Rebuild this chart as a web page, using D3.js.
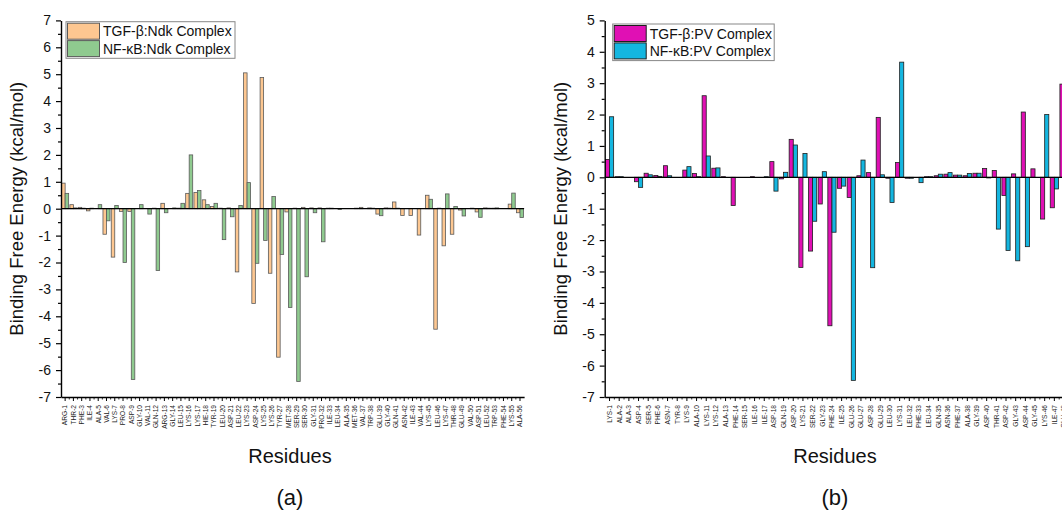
<!DOCTYPE html>
<html>
<head>
<meta charset="utf-8">
<script src="https://cdn.jsdelivr.net/npm/d3@7"></script>
<style>
  body { margin: 0; background: #fff; }
  svg { font-family: Arial, "Liberation Sans", sans-serif; }
</style>
</head>
<body>
<div id="chart"></div>
<script>
// panel (a) - Ndk complexes
const residuesA = ["ARG-1","THR-2","PHE-3","ILE-4","ALA-5","VAL-6","LYS-7","PRO-8","ASP-9","GLY-10",
  "VAL-11","GLN-12","ARG-13","GLY-14","LEU-15","LYS-16","LYS-17","HIE-18","TYR-19","LEU-20",
  "ASP-21","LEU-22","LYS-23","ASP-24","LYS-25","LYS-26","TYR-27","MET-28","SER-29","SER-30",
  "GLY-31","PRO-32","ILE-33","LEU-34","ALA-35","MET-36","VAL-37","TRP-38","GLU-39","GLY-40",
  "GLN-41","ASN-42","ILE-43","VAL-44","LYS-45","LEU-46","LYS-47","THR-48","GLU-49","VAL-50",
  "ASP-51","LEU-52","TRP-53","PHE-54","LYS-55","ALA-56"];
const tgfNdk = [0.95,0.15,0.05,-0.08,0,-0.95,-1.8,-0.1,-0.1,0,
  0,0.02,0.2,0,0.02,0.57,0.6,0.33,0.08,0.02,
  0.03,-2.35,5.05,-3.52,4.88,-2.4,-5.52,-0.12,0.02,0.05,
  0.03,0.03,0.02,0,0,0,0.05,0.03,-0.2,0.03,
  0.25,-0.25,-0.25,-0.98,0.5,-4.48,-1.38,-0.95,-0.05,0,
  -0.12,0.03,0.02,0,0.17,-0.15];
const nfkbNdk = [0.57,0.03,0.02,0.02,0.15,-0.45,0.12,-2.0,-6.35,0.15,
  -0.2,-2.3,-0.15,0.03,0.2,2.0,0.68,0.15,0.2,-1.15,
  -0.3,0.12,0.97,-2.03,-1.18,0.45,-1.7,-3.67,-6.42,-2.53,
  -0.15,-1.23,0.02,-0.03,0,0.02,0,0.02,-0.26,0.02,
  0.02,0,0,0,0.35,0.02,0.55,0.08,-0.27,0.02,
  -0.32,0.02,0.03,0,0.58,-0.33];

// panel (b) - PV complexes (last residue is cut off by the frame)
const residuesB = ["LYS-1","ALA-2","ALA-3","ASP-4","SER-5","PHE-6","ASN-7","TYR-8","LYS-9","ALA-10",
  "LYS-11","LYS-12","ALA-13","PHE-14","SER-15","ILE-16","ILE-17","ASP-18","GLN-19","ASP-20",
  "LYS-21","SER-22","GLY-23","PHE-24","ILE-25","GLU-26","GLU-27","ASP-28","GLU-29","LEU-30",
  "LYS-31","LEU-32","PHE-33","LEU-34","GLN-35","ASN-36","PHE-37","ALA-38","GLY-39","ASP-40",
  "THR-41","ASP-42","GLY-43","ASP-44","GLY-45","LYS-46","ILE-47","GLU-48"];
const tgfPV = [0.57,0.02,0,-0.14,0.13,0.06,0.37,0,0.23,0.12,
  2.6,0.29,0.02,-0.9,0,0.02,0,0.5,-0.05,1.21,
  -2.87,-2.35,-0.85,-4.73,-0.35,-0.64,0.05,0.15,1.91,-0.03,
  0.47,-0.03,0,0.02,0.05,0.1,0.07,0.05,0.13,0.28,
  0.22,-0.58,0.11,2.08,0.27,-1.33,-0.97,2.97];
const nfkbPV = [1.93,0.02,0,-0.32,0.08,0.03,0.05,0,0.34,0.02,
  0.68,0.3,0,0,0,0,0.02,-0.44,0.16,1.03,
  0.76,-1.4,0.18,-1.75,-0.28,-6.47,0.55,-2.88,0.08,-0.8,
  3.67,-0.03,-0.17,0.02,0.1,0.15,0.07,0.12,0.13,-0.02,
  -1.65,-2.33,-2.66,-2.21,0,2.0,-0.37,0];

const width = 1062, height = 516;

const svg = d3.select("#chart")
  .append("svg")
    .attr("width", width)
    .attr("height", height);

svg.append("rect").attr("width", width).attr("height", height).attr("fill", "#fff");

function drawPanel(p) {
  const g = svg.append("g");

  const x0 = d3.scaleBand()
    .domain(p.residues)
    .range([p.left, p.left + p.residues.length * p.step])
    .paddingInner(0.15)
    .paddingOuter(0.075);

  const x1 = d3.scaleBand()
    .domain([0, 1])
    .range([0, x0.bandwidth()]);

  const y = d3.scaleLinear()
    .domain(p.yDomain)
    .range([397, 20.4]);

  const rows = p.residues.map((r, i) => ({ r, vals: [p.s1[i], p.s2[i]] }));

  // bars
  const grp = g.selectAll(".grp")
    .data(rows)
    .enter().append("g")
      .attr("transform", d => `translate(${x0(d.r)},0)`);

  grp.selectAll("rect")
    .data(d => d.vals.map((v, k) => ({ k, v })))
    .enter().append("rect")
      .attr("x", d => x1(d.k))
      .attr("width", x1.bandwidth())
      .attr("y", d => y(Math.max(0, d.v)))
      .attr("height", d => Math.abs(y(d.v) - y(0)))
      .attr("fill", d => p.colors[d.k])
      .attr("stroke", p.stroke)
      .attr("stroke-width", 0.8);

  // zero line
  g.append("line")
    .attr("x1", x0.range()[0]).attr("x2", x0.range()[1])
    .attr("y1", y(0)).attr("y2", y(0))
    .attr("stroke", "#000").attr("stroke-width", 1.3);

  // y axis
  const yMinor = d3.range(p.yDomain[0] + 0.5, p.yDomain[1], 1);
  g.append("g")
    .attr("transform", `translate(${p.left},0)`)
    .call(d3.axisLeft(y).tickValues(yMinor).tickSize(3).tickFormat(""))
    .call(a => a.select(".domain").remove())
    .selectAll("line").attr("stroke-width", 1.2);

  const yAxis = g.append("g")
    .attr("transform", `translate(${p.left},0)`)
    .call(d3.axisLeft(y)
      .tickValues(d3.range(p.yDomain[0], p.yDomain[1] + 1))
      .tickSize(5)
      .tickSizeOuter(0)
      .tickPadding(5)
      .tickFormat(d => String(d)));
  yAxis.select(".domain").attr("stroke-width", 1.4);
  yAxis.selectAll("line").attr("stroke-width", 1.2);
  yAxis.selectAll("text").attr("font-size", 14).attr("fill", "#111");

  // x axis
  const xAxis = g.append("g")
    .attr("transform", `translate(0,${y(p.yDomain[0])})`)
    .call(d3.axisBottom(x0).tickSize(4).tickSizeOuter(0).tickPadding(3));
  xAxis.select(".domain").attr("stroke-width", 1.4);
  xAxis.selectAll("line").attr("stroke-width", 1);
  xAxis.selectAll("text")
    .attr("font-size", 6.6)
    .attr("fill", "#222")
    .attr("transform", "rotate(-90)")
    .attr("text-anchor", "end")
    .attr("x", -8)
    .attr("y", 0)
    .attr("dy", "0.35em");

  // minor ticks between residues
  g.append("g").selectAll("line")
    .data(p.residues.slice(0, -1))
    .enter().append("line")
      .attr("x1", d => x0(d) + x0.step() - x0.step() * 0.075 - (x0.step() - x0.bandwidth()) / 2 + x0.step() * 0.075)
      .attr("x2", d => x0(d) + x0.step() - x0.step() * 0.075 - (x0.step() - x0.bandwidth()) / 2 + x0.step() * 0.075)
      .attr("y1", y(p.yDomain[0]))
      .attr("y2", y(p.yDomain[0]) + 2.5)
      .attr("stroke", "#000").attr("stroke-width", 0.8);

  // titles
  g.append("text")
    .attr("transform", `translate(${p.left - 38},${(y.range()[0] + y.range()[1]) / 2}) rotate(-90)`)
    .attr("text-anchor", "middle")
    .attr("font-size", 18.5)
    .attr("fill", "#111")
    .text("Binding Free Energy (kcal/mol)");

  g.append("text")
    .attr("x", p.titleX).attr("y", 463)
    .attr("text-anchor", "middle")
    .attr("font-size", 20)
    .attr("fill", "#111")
    .text("Residues");

  g.append("text")
    .attr("x", p.titleX).attr("y", 505)
    .attr("text-anchor", "middle")
    .attr("font-size", 22)
    .attr("fill", "#111")
    .text(p.letter);

  // legend
  const lg = g.append("g").attr("transform", `translate(${p.legend[0]},${p.legend[1]})`);
  lg.append("rect")
    .attr("width", p.legendW).attr("height", 36.6)
    .attr("fill", "#fff").attr("stroke", "#888").attr("stroke-width", 1);
  p.names.forEach((n, k) => {
    lg.append("rect")
      .attr("x", 1.5).attr("y", 1.5 + k * 17.4)
      .attr("width", 32).attr("height", 16)
      .attr("fill", p.colors[k]).attr("stroke", p.stroke).attr("stroke-width", 1);
    lg.append("text")
      .attr("x", 37).attr("y", 14.5 + k * 17.4)
      .attr("font-size", 14)
      .attr("fill", "#111")
      .text(n);
  });
}

drawPanel({
  residues: residuesA, s1: tgfNdk, s2: nfkbNdk,
  left: 61, step: 8.27, yDomain: [-7, 7],
  colors: ["#fdc791", "#8fca8f"], stroke: "#5a5a5a",
  names: ["TGF-β:Ndk Complex", "NF-κB:Ndk Complex"],
  legend: [66, 21.7], legendW: 169,
  titleX: 290, letter: "(a)"
});

drawPanel({
  residues: residuesB, s1: tgfPV, s2: nfkbPV,
  left: 604.7, step: 9.67, yDomain: [-7, 5],
  colors: ["#e010b4", "#14b6e0"], stroke: "#1e1e1e",
  names: ["TGF-β:PV Complex", "NF-κB:PV Complex"],
  legend: [612.7, 24], legendW: 161.5,
  titleX: 835, letter: "(b)"
});
</script>
</body>
</html>
